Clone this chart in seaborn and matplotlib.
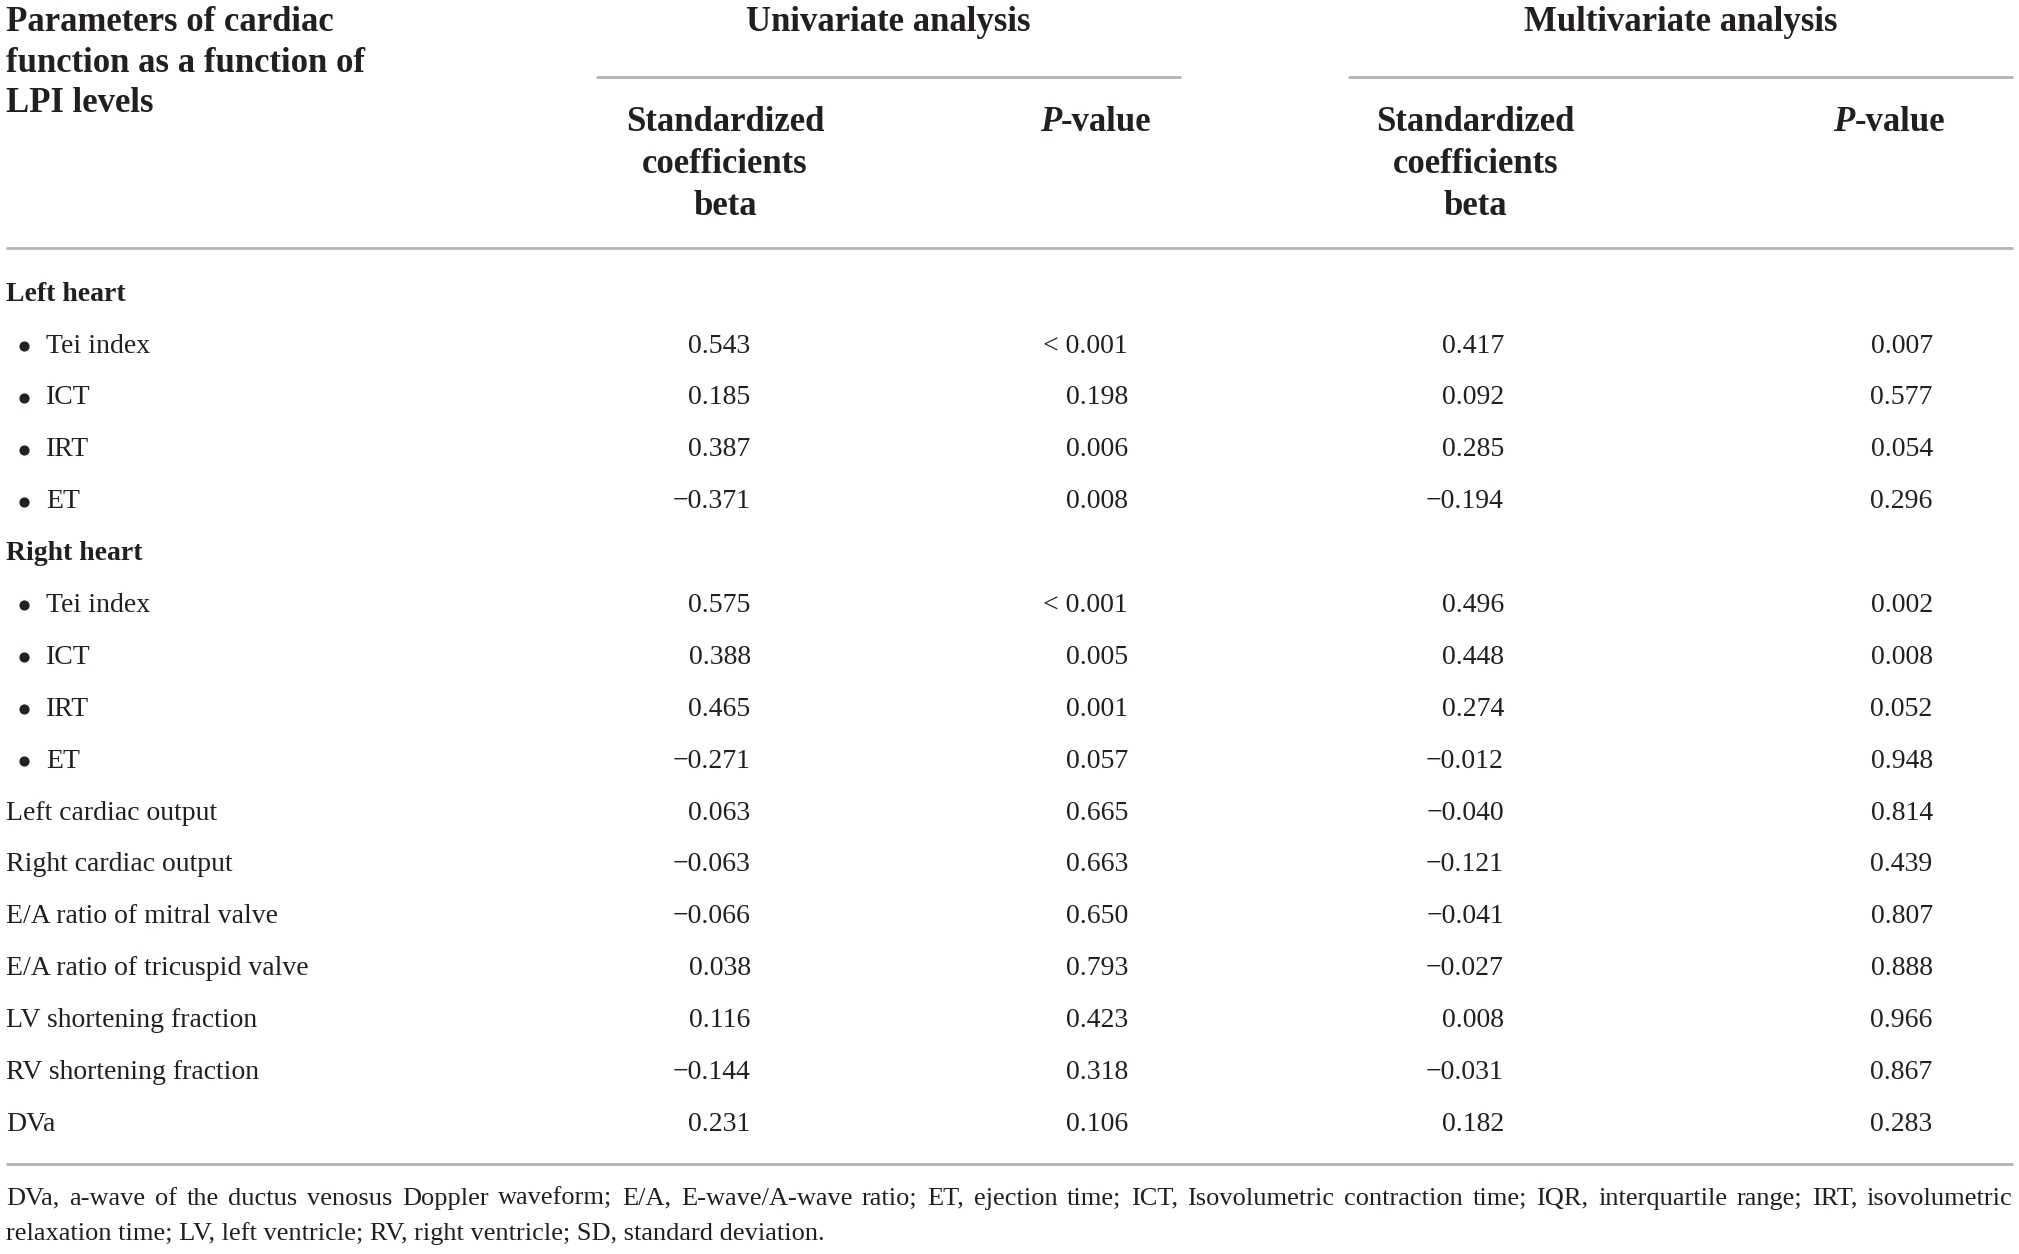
import numpy as np
import pandas as pd
import matplotlib
matplotlib.use("Agg")
import matplotlib.pyplot as plt
import seaborn as sns

# --- Table content ---
row_labels = [
    "Left heart", "Tei index", "ICT", "IRT", "ET",
    "Right heart", "Tei index", "ICT", "IRT", "ET",
    "Left cardiac output", "Right cardiac output",
    "E/A ratio of mitral valve", "E/A ratio of tricuspid valve",
    "LV shortening fraction", "RV shortening fraction", "DVa",
]
row_kind = [
    "group", "bullet", "bullet", "bullet", "bullet",
    "group", "bullet", "bullet", "bullet", "bullet",
    "plain", "plain", "plain", "plain", "plain", "plain", "plain",
]
uni_beta = ["", "0.543", "0.185", "0.387", "\u22120.371",
            "", "0.575", "0.388", "0.465", "\u22120.271",
            "0.063", "\u22120.063", "\u22120.066", "0.038", "0.116", "\u22120.144", "0.231"]
uni_p = ["", "< 0.001", "0.198", "0.006", "0.008",
         "", "< 0.001", "0.005", "0.001", "0.057",
         "0.665", "0.663", "0.650", "0.793", "0.423", "0.318", "0.106"]
multi_beta = ["", "0.417", "0.092", "0.285", "\u22120.194",
              "", "0.496", "0.448", "0.274", "\u22120.012",
              "\u22120.040", "\u22120.121", "\u22120.041", "\u22120.027", "0.008", "\u22120.031", "0.182"]
multi_p = ["", "0.007", "0.577", "0.054", "0.296",
           "", "0.002", "0.008", "0.052", "0.948",
           "0.814", "0.439", "0.807", "0.888", "0.966", "0.867", "0.283"]

header_left = ["Parameters of cardiac", "function as a function of", "LPI levels"]
group_titles = ["Univariate analysis", "Multivariate analysis"]
beta_header = ["Standardized", "coefficients", "beta"]
footnote = [
    "DVa, a-wave of the ductus venosus Doppler waveform; E/A, E-wave/A-wave ratio; ET, ejection time; "
    "ICT, Isovolumetric contraction time; IQR, interquartile range; IRT, isovolumetric",
    "relaxation time; LV, left ventricle; RV, right ventricle; SD, standard deviation.",
]

table = pd.DataFrame({
    "label": row_labels, "kind": row_kind,
    "uni_beta": uni_beta, "uni_p": uni_p,
    "multi_beta": multi_beta, "multi_p": multi_p,
})

# --- Styling ---
sns.set_theme(style="white")
plt.rcParams["font.family"] = ["Liberation Serif", "DejaVu Serif"]
ink = "#231f20"
rule = "#b4b4b4"

fig = plt.figure(figsize=(20.19, 12.54), dpi=100)
ax = fig.add_axes([0, 0, 1, 1])
ax.set_xlim(0, 1568)
ax.set_ylim(974, 0)
ax.axis("off")

hfs = 25   # header font size
bfs = 20   # body font size
ffs = 19   # footnote font size

fig.canvas.draw()
renderer = fig.canvas.get_renderer()
inv = ax.transData.inverted()


def data_width(t):
    bb = t.get_window_extent(renderer)
    return inv.transform((bb.x1, 0))[0] - inv.transform((bb.x0, 0))[0]


# column geometry
col_right = {"uni_beta": 583, "uni_p": 876, "multi_beta": 1168, "multi_p": 1501}
beta_centers = [563, 1146]
p_centers = [851, 1467]
group_centers = [690, 1305]
group_spans = [(463, 917), (1047, 1563)]

# header
head_y0, head_dy = 17.5, 31.5
for i, line in enumerate(header_left):
    ax.text(5, head_y0 + i * head_dy, line, fontsize=hfs, fontweight="bold",
            color=ink, ha="left", va="center")
for title, cx, (x0, x1) in zip(group_titles, group_centers, group_spans):
    ax.text(cx, head_y0, title, fontsize=hfs, fontweight="bold", color=ink,
            ha="center", va="center")
    ax.plot([x0, x1], [60, 60], color=rule, lw=2, solid_capstyle="butt")

sub_y0, sub_dy = 95.5, 32.5
for cx in beta_centers:
    for i, line in enumerate(beta_header):
        ax.text(cx, sub_y0 + i * sub_dy, line, fontsize=hfs, fontweight="bold",
                color=ink, ha="center", va="center")

# "P-value" with italic P
for cx in p_centers:
    tp = ax.text(0, sub_y0, "P", fontsize=hfs, fontweight="bold", style="italic",
                 color=ink, ha="left", va="center")
    tv = ax.text(0, sub_y0, "-value", fontsize=hfs, fontweight="bold",
                 color=ink, ha="left", va="center")
    wp, wv = data_width(tp), data_width(tv)
    start = cx - (wp + wv) / 2
    tp.set_x(start)
    tv.set_x(start + wp)

ax.plot([5, 1563], [193, 193], color=rule, lw=2, solid_capstyle="butt")

# body rows
row_y0, row_dy = 228.5, 40.3
for i, r in table.iterrows():
    y = row_y0 + i * row_dy
    if r["kind"] == "group":
        ax.text(5, y, r["label"], fontsize=bfs, fontweight="bold", color=ink,
                ha="left", va="center")
    elif r["kind"] == "bullet":
        ax.scatter([19], [y], s=40, color=ink, zorder=3)
        ax.text(36, y, r["label"], fontsize=bfs, color=ink, ha="left", va="center")
    else:
        ax.text(5, y, r["label"], fontsize=bfs, color=ink, ha="left", va="center")
    for col, xr in col_right.items():
        if r[col]:
            ax.text(xr, y, r[col], fontsize=bfs, color=ink, ha="right", va="center")

bottom_y = 904
ax.plot([5, 1563], [bottom_y, bottom_y], color=rule, lw=2, solid_capstyle="butt")

# footnote: first line justified to the table width, second line left aligned
fx0, fx1 = 5, 1563
words = footnote[0].split(" ")
wtexts = [ax.text(0, 931, w, fontsize=ffs, color=ink, ha="left", va="center")
          for w in words]
widths = [data_width(t) for t in wtexts]
gap = (fx1 - fx0 - sum(widths)) / (len(words) - 1)
x = fx0
for t, w in zip(wtexts, widths):
    t.set_x(x)
    x += w + gap
ax.text(fx0, 958, footnote[1], fontsize=ffs, color=ink, ha="left", va="center")

fig.savefig("out.png", dpi=100)
print("saved out.png")
